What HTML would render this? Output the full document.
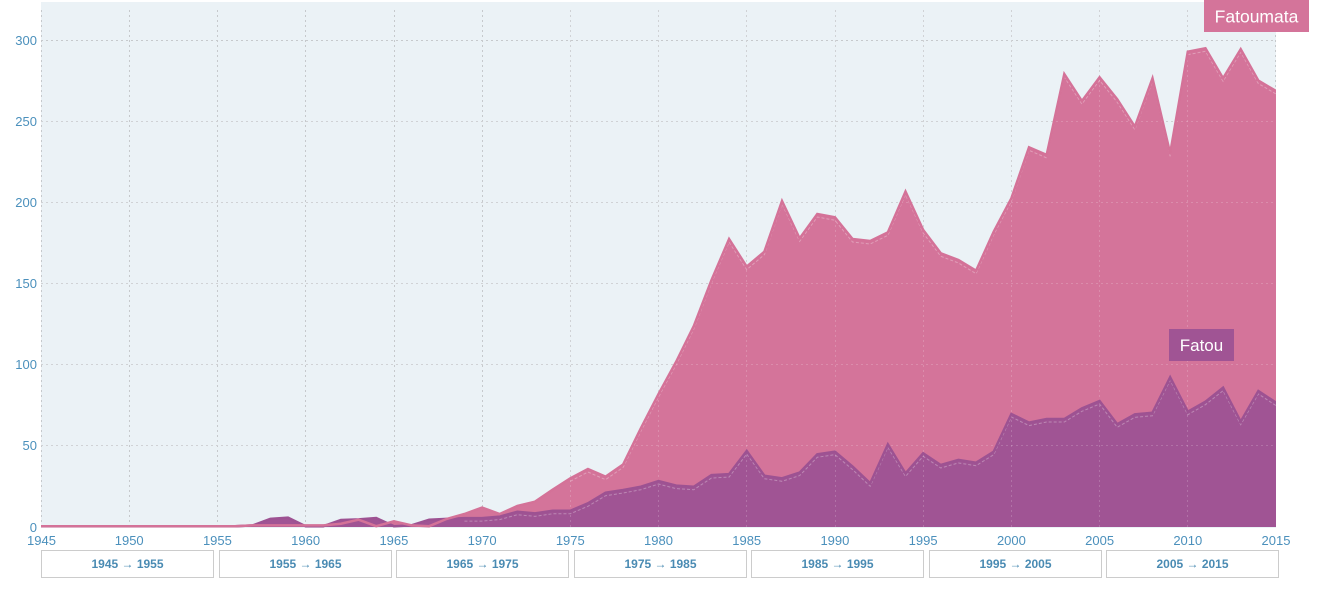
<!DOCTYPE html>
<html>
<head>
<meta charset="utf-8">
<style>
  html, body { margin: 0; padding: 0; background: #ffffff; }
  body { width: 1326px; height: 590px; overflow: hidden; font-family: "Liberation Sans", sans-serif; }
  svg { display: block; }
  .tick { font-family: "Liberation Sans", sans-serif; font-size: 13px; fill: #4b90bc; }
  .btn text { font-family: "Liberation Sans", sans-serif; font-size: 12px; font-weight: bold; fill: #4a8bb3; }
</style>
</head>
<body>
<svg width="1326" height="590" viewBox="0 0 1326 590" xmlns="http://www.w3.org/2000/svg">
  <defs>
    <clipPath id="plot">
      <rect x="41" y="2" width="1235" height="526"/>
    </clipPath>
  </defs>

  <rect x="41" y="2" width="1235" height="526" fill="#ebf2f6"/>

  <g stroke="#c6c9cc" stroke-width="1" stroke-dasharray="2,3" fill="none">
    <line x1="41" y1="40.5" x2="1276" y2="40.5"/>
    <line x1="41" y1="121.5" x2="1276" y2="121.5"/>
    <line x1="41" y1="202.5" x2="1276" y2="202.5"/>
    <line x1="41" y1="283.5" x2="1276" y2="283.5"/>
    <line x1="41" y1="364.5" x2="1276" y2="364.5"/>
    <line x1="41" y1="445.5" x2="1276" y2="445.5"/>
    <line x1="41.5" y1="10" x2="41.5" y2="528"/>
    <line x1="129.5" y1="10" x2="129.5" y2="528"/>
    <line x1="217.5" y1="10" x2="217.5" y2="528"/>
    <line x1="305.5" y1="10" x2="305.5" y2="528"/>
    <line x1="394.5" y1="10" x2="394.5" y2="528"/>
    <line x1="482.5" y1="10" x2="482.5" y2="528"/>
    <line x1="570.5" y1="10" x2="570.5" y2="528"/>
    <line x1="658.5" y1="10" x2="658.5" y2="528"/>
    <line x1="746.5" y1="10" x2="746.5" y2="528"/>
    <line x1="835.5" y1="10" x2="835.5" y2="528"/>
    <line x1="923.5" y1="10" x2="923.5" y2="528"/>
    <line x1="1011.5" y1="10" x2="1011.5" y2="528"/>
    <line x1="1099.5" y1="10" x2="1099.5" y2="528"/>
    <line x1="1187.5" y1="10" x2="1187.5" y2="528"/>
    <line x1="1275.5" y1="10" x2="1275.5" y2="528"/>
  </g>

  <g clip-path="url(#plot)">
    <g transform="translate(41,527) scale(17.643,-1.6233)">
      <polygon fill="#d4749a" points="0,0 0,0.5 11,0.5 12,1 13,1 14,1 15,1 16,1 17,2 18,4.5 19,0.5 20,3.5 21,1 22,0.5 23,5 24,8 25,12 26,8 27,13 28,15.6 29,23 30,30 31,35.7 32,31 33,38.6 34,60.8 35,81.9 36,101.8 37,123.8 38,152 39,177.4 40,160.4 41,169.6 42,200.8 43,177.8 44,192.8 45,190.8 46,177.4 47,176.2 48,181.5 49,206.6 50,183 51,168.6 52,164.5 53,157.9 54,181.9 55,202.5 56,233.9 57,229.2 58,279 59,262.4 60,277 61,263.5 62,246.6 63,276.4 64,230.2 65,292.8 66,294.9 67,276.4 68,294.3 69,275 70,268.6 70,0"/>
      <polygon fill="#a05494" points="0,0 0,0.5 11,0.5 12,1 13,5 14,5.8 15,0.5 16,0.5 17,4.3 18,4.7 19,5.5 20,0.5 21,1 22,4.5 23,5 24,5.5 25,5.5 26,6.4 27,9.4 28,8.4 29,10 30,10 31,14.6 32,21.1 33,22.8 34,24.8 35,28.3 36,25.5 37,24.8 38,32 39,32.6 40,46.8 41,31.6 42,30 43,33.5 44,44.8 45,46.4 46,37.2 47,26.9 48,50.9 49,33 50,45.4 51,38.2 52,41.3 53,39.6 54,46.4 55,69.6 56,64.3 57,66.5 58,66.5 59,73.1 60,77.6 61,63.3 62,69.4 63,70.4 64,92.2 65,71 66,77.2 67,85.8 68,64.9 69,83.8 70,76.6 70,0"/>
    </g>

    <g stroke="#ffffff" stroke-opacity="0.18" stroke-width="1" stroke-dasharray="2,3" fill="none">
      <line x1="41" y1="121.5" x2="1276" y2="121.5"/>
      <line x1="41" y1="202.5" x2="1276" y2="202.5"/>
      <line x1="41" y1="283.5" x2="1276" y2="283.5"/>
      <line x1="41" y1="364.5" x2="1276" y2="364.5"/>
      <line x1="41" y1="445.5" x2="1276" y2="445.5"/>
      <line x1="570.5" y1="10" x2="570.5" y2="528"/>
      <line x1="658.5" y1="10" x2="658.5" y2="528"/>
      <line x1="746.5" y1="10" x2="746.5" y2="528"/>
      <line x1="835.5" y1="10" x2="835.5" y2="528"/>
      <line x1="923.5" y1="10" x2="923.5" y2="528"/>
      <line x1="1011.5" y1="10" x2="1011.5" y2="528"/>
      <line x1="1099.5" y1="10" x2="1099.5" y2="528"/>
      <line x1="1187.5" y1="10" x2="1187.5" y2="528"/>
    </g>

    <g transform="translate(0,3)">
      <g transform="translate(41,527) scale(17.643,-1.6233)" fill="none" stroke="#ffffff" stroke-opacity="0.3" stroke-dasharray="3,2">
        <polyline vector-effect="non-scaling-stroke" stroke-width="1" points="30,30 31,35.7 32,31 33,38.6 34,60.8 35,81.9 36,101.8 37,123.8 38,152 39,177.4 40,160.4 41,169.6 42,200.8 43,177.8 44,192.8 45,190.8 46,177.4 47,176.2 48,181.5 49,206.6 50,183 51,168.6 52,164.5 53,157.9 54,181.9 55,202.5 56,233.9 57,229.2 58,279 59,262.4 60,277 61,263.5 62,246.6 63,276.4 64,230.2 65,292.8 66,294.9 67,276.4 68,294.3 69,275 70,268.6"/>
        <polyline vector-effect="non-scaling-stroke" stroke-width="1" points="24,5.5 25,5.5 26,6.4 27,9.4 28,8.4 29,10 30,10 31,14.6 32,21.1 33,22.8 34,24.8 35,28.3 36,25.5 37,24.8 38,32 39,32.6 40,46.8 41,31.6 42,30 43,33.5 44,44.8 45,46.4 46,37.2 47,26.9 48,50.9 49,33 50,45.4 51,38.2 52,41.3 53,39.6 54,46.4 55,69.6 56,64.3 57,66.5 58,66.5 59,73.1 60,77.6 61,63.3 62,69.4 63,70.4 64,92.2 65,71 66,77.2 67,85.8 68,64.9 69,83.8 70,76.6"/>
      </g>
    </g>

    <g transform="translate(41,527) scale(17.643,-1.6233)" fill="none" stroke-linejoin="miter">
      <polyline vector-effect="non-scaling-stroke" stroke="#9d5292" stroke-width="2.5" points="0,0.5 11,0.5 12,1 13,5 14,5.8 15,0.5 16,0.5 17,4.3 18,4.7 19,5.5 20,0.5 21,1 22,4.5 23,5 24,5.5 25,5.5 26,6.4 27,9.4 28,8.4 29,10 30,10 31,14.6 32,21.1 33,22.8 34,24.8 35,28.3 36,25.5 37,24.8 38,32 39,32.6 40,46.8 41,31.6 42,30 43,33.5 44,44.8 45,46.4 46,37.2 47,26.9 48,50.9 49,33 50,45.4 51,38.2 52,41.3 53,39.6 54,46.4 55,69.6 56,64.3 57,66.5 58,66.5 59,73.1 60,77.6 61,63.3 62,69.4 63,70.4 64,92.2 65,71 66,77.2 67,85.8 68,64.9 69,83.8 70,76.6"/>
      <polyline vector-effect="non-scaling-stroke" stroke="#d47298" stroke-width="2.5" points="0,0.5 11,0.5 12,1 13,1 14,1 15,1 16,1 17,2 18,4.5 19,0.5 20,3.5 21,1 22,0.5 23,5 24,8 25,12 26,8 27,13 28,15.6 29,23 30,30 31,35.7 32,31 33,38.6 34,60.8 35,81.9 36,101.8 37,123.8 38,152 39,177.4 40,160.4 41,169.6 42,200.8 43,177.8 44,192.8 45,190.8 46,177.4 47,176.2 48,181.5 49,206.6 50,183 51,168.6 52,164.5 53,157.9 54,181.9 55,202.5 56,233.9 57,229.2 58,279 59,262.4 60,277 61,263.5 62,246.6 63,276.4 64,230.2 65,292.8 66,294.9 67,276.4 68,294.3 69,275 70,268.6"/>
    </g>
  </g>

  <g class="tick" text-anchor="end">
    <text x="37" y="45">300</text>
    <text x="37" y="126">250</text>
    <text x="37" y="207">200</text>
    <text x="37" y="288">150</text>
    <text x="37" y="369">100</text>
    <text x="37" y="450">50</text>
    <text x="37" y="532">0</text>
  </g>

  <g class="tick" text-anchor="middle">
    <text x="41.5" y="545">1945</text>
    <text x="129.2" y="545">1950</text>
    <text x="217.4" y="545">1955</text>
    <text x="305.6" y="545">1960</text>
    <text x="393.9" y="545">1965</text>
    <text x="482.1" y="545">1970</text>
    <text x="570.3" y="545">1975</text>
    <text x="658.5" y="545">1980</text>
    <text x="746.7" y="545">1985</text>
    <text x="834.9" y="545">1990</text>
    <text x="923.1" y="545">1995</text>
    <text x="1011.4" y="545">2000</text>
    <text x="1099.6" y="545">2005</text>
    <text x="1187.8" y="545">2010</text>
    <text x="1276" y="545">2015</text>
  </g>

  <rect x="1204" y="0" width="105" height="32" fill="#d4749a"/>
  <text x="1256.5" y="22.5" text-anchor="middle" font-family="Liberation Sans, sans-serif" font-size="17.5" fill="#ffffff">Fatoumata</text>
  <rect x="1169" y="329" width="65" height="32" fill="#a05494"/>
  <text x="1201.5" y="351" text-anchor="middle" font-family="Liberation Sans, sans-serif" font-size="17" fill="#ffffff">Fatou</text>

  <g class="btn">
    <rect x="41.5" y="550.5" width="172" height="27" fill="#ffffff" stroke="#cccccc"/>
    <text x="127.5" y="568" text-anchor="middle">1945 → 1955</text>
    <rect x="219.5" y="550.5" width="172" height="27" fill="#ffffff" stroke="#cccccc"/>
    <text x="305.5" y="568" text-anchor="middle">1955 → 1965</text>
    <rect x="396.5" y="550.5" width="172" height="27" fill="#ffffff" stroke="#cccccc"/>
    <text x="482.5" y="568" text-anchor="middle">1965 → 1975</text>
    <rect x="574.5" y="550.5" width="172" height="27" fill="#ffffff" stroke="#cccccc"/>
    <text x="660.5" y="568" text-anchor="middle">1975 → 1985</text>
    <rect x="751.5" y="550.5" width="172" height="27" fill="#ffffff" stroke="#cccccc"/>
    <text x="837.5" y="568" text-anchor="middle">1985 → 1995</text>
    <rect x="929.5" y="550.5" width="172" height="27" fill="#ffffff" stroke="#cccccc"/>
    <text x="1015.5" y="568" text-anchor="middle">1995 → 2005</text>
    <rect x="1106.5" y="550.5" width="172" height="27" fill="#ffffff" stroke="#cccccc"/>
    <text x="1192.5" y="568" text-anchor="middle">2005 → 2015</text>
  </g>
</svg>
</body>
</html>
